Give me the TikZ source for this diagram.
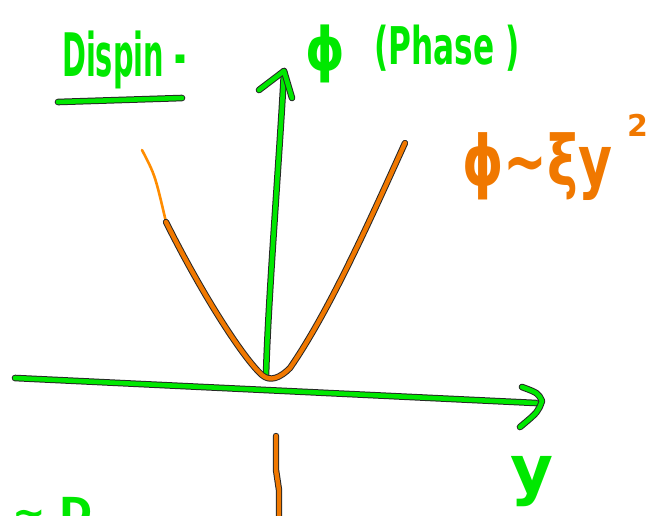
\documentclass[tikz,border=0pt]{standalone}
\usepackage{fontspec}
\setmainfont{DejaVu Sans}
\definecolor{pen}{RGB}{0,232,0}
\definecolor{ora}{RGB}{240,120,0}
\definecolor{oral}{RGB}{255,140,0}
\tikzset{
  gstroke/.style={draw=pen, line width=4.6pt, line cap=round, line join=round,
    preaction={draw=black!85, line width=6.6pt, line cap=round, line join=round}},
  ostroke/.style={draw=ora, line width=4.4pt, line cap=round, line join=round,
    preaction={draw=black!85, line width=6.4pt, line cap=round, line join=round}},
  othin/.style={draw=oral, line width=2.6pt, line cap=round},
  gtext/.style={text=pen, inner sep=0pt},
  otext/.style={text=ora, inner sep=0pt},
}
\begin{document}
\begin{tikzpicture}[x=1pt,y=-1pt]
\useasboundingbox (0,0) rectangle (660,515);
\clip (0,0) rectangle (660,515);
% title
\node[gtext, font=\bfseries\fontsize{40}{40}\selectfont, anchor=base west, xscale=0.72, yscale=1.5] (title) at (62,76) {Dispin -};
\coordinate (ulL) at (58,102);
\coordinate (ulR) at (182,98);
\draw[gstroke] (ulL) -- (ulR);
% axis labels
\node[gtext, font=\bfseries\fontsize{50}{50}\selectfont, anchor=base west, yscale=1.2] (phi) at (305,70) {ϕ};
\node[gtext, font=\bfseries\fontsize{40}{40}\selectfont, anchor=base west, xscale=0.78, yscale=1.3] (phase) at (374,64) {(Phase )};
\node[gtext, font=\bfseries\fontsize{66}{66}\selectfont, anchor=base] (ylab) at (532,492) {y};
% vertical axis
\coordinate (vbot) at (266,376);
\coordinate (vtop) at (284,71);
\coordinate (vbl) at (259,90);
\coordinate (vbr) at (292,98);
\draw[gstroke] (vbot) .. controls (268,300) and (280,150) .. (vtop);
\draw[gstroke] (vbl) -- (vtop) -- (vbr);
% horizontal axis
\coordinate (hl) at (15,378);
\coordinate (hr) at (536,403);
\coordinate (htip) at (542,401);
\coordinate (hbu) at (522,387);
\coordinate (hbl) at (520,427);
\draw[gstroke] (hl) -- (hr);
\draw[gstroke] (hbu) .. controls (538,393) .. (htip) .. controls (538,412) .. (hbl);
% parabola
\coordinate (pl) at (142,150);
\coordinate (pm) at (166,222);
\coordinate (pr) at (405,143);
\draw[othin] (pl) .. controls (155,175) .. (pm);
\draw[ostroke] (pm) .. controls (205,300) and (245,360) .. (262,375)
  .. controls (270,382) and (280,378) .. (290,368)
  .. controls (330,310) and (370,220) .. (pr);
% orange formula
\node[otext, font=\bfseries\fontsize{58}{58}\selectfont, anchor=base west, xscale=0.9, yscale=1.2] (formula) at (462,185) {ϕ∼ξy};
\node[otext, font=\bfseries\fontsize{30}{30}\selectfont, anchor=base west] (sq) at (627,136) {2};
% orange vertical line at bottom
\coordinate (ob1) at (276,436);
\coordinate (ob2) at (279,520);
\draw[ostroke] (ob1) -- (276,470) -- (279,490) -- (ob2);
% bottom left text (cut)
\node[gtext, font=\bfseries\fontsize{40}{40}\selectfont, anchor=north west] (bl) at (12,497) {∼ D};
\end{tikzpicture}
\end{document}
